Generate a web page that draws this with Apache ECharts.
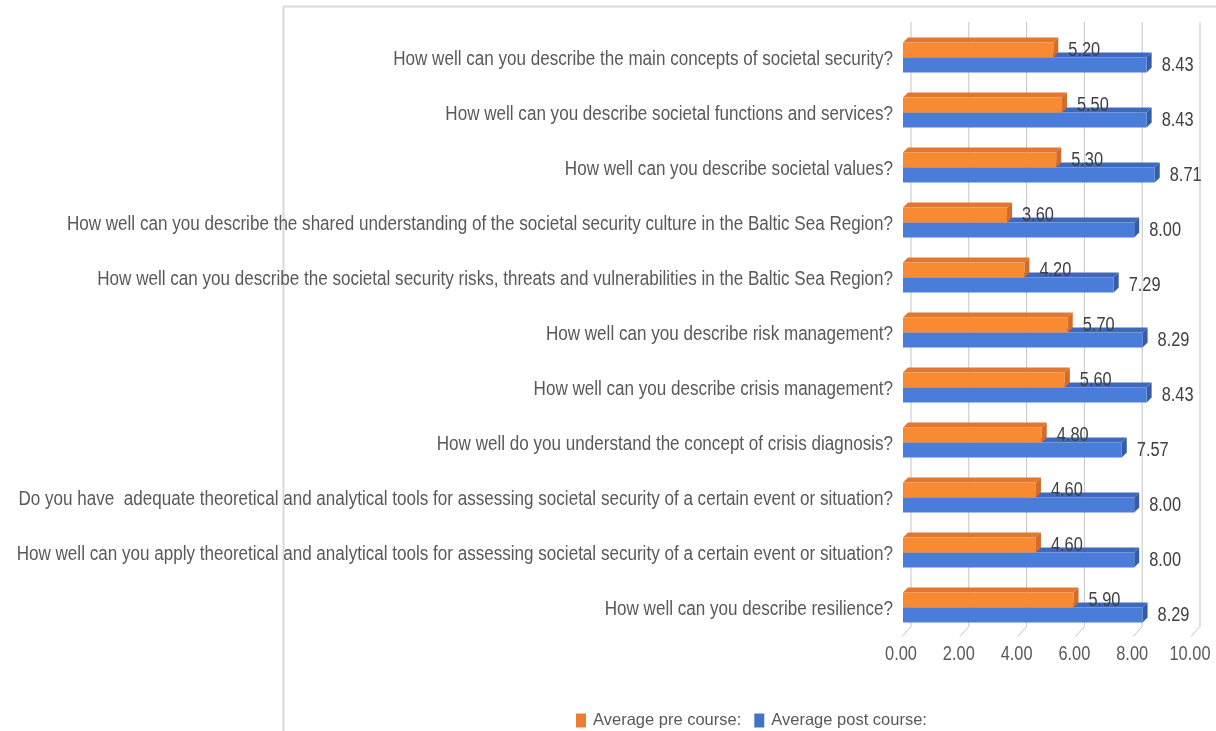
<!DOCTYPE html>
<html>
<head>
<meta charset="utf-8">
<script src="https://cdn.jsdelivr.net/npm/echarts@6/dist/echarts.min.js"></script>
<style>
html,body{margin:0;padding:0;background:#fff;}
#chart{width:1216px;height:731px;}
</style>
</head>
<body>
<div id="chart"></div>
<script>
const categories = [
  "How well can you describe the main concepts of societal security?",
  "How well can you describe societal functions and services?",
  "How well can you describe societal values?",
  "How well can you describe the shared understanding of the societal security culture in the Baltic Sea Region?",
  "How well can you describe the societal security risks, threats and vulnerabilities in the Baltic Sea Region?",
  "How well can you describe risk management?",
  "How well can you describe crisis management?",
  "How well do you understand the concept of crisis diagnosis?",
  "Do you have  adequate theoretical and analytical tools for assessing societal security of a certain event or situation?",
  "How well can you apply theoretical and analytical tools for assessing societal security of a certain event or situation?",
  "How well can you describe resilience?"
];
const preCourse  = [5.20, 5.50, 5.30, 3.60, 4.20, 5.70, 5.60, 4.80, 4.60, 4.60, 5.90];
const postCourse = [8.43, 8.43, 8.71, 8.00, 7.29, 8.29, 8.43, 7.57, 8.00, 8.00, 8.29];
const xTicks = [0, 2, 4, 6, 8, 10];
const xTickLabels = ["0.00", "2.00", "4.00", "6.00", "8.00", "10.00"];
const seriesNames = ["Average pre course:", "Average post course:"];

const FONT = "'Liberation Sans', Arial, sans-serif";
const FONT_SIZE = 19.5;
const SX_NUM = 0.84;
const SX_CAT = 0.875;
const BAR_H = 15, DX = 5, DY = 5;

const palettes = [
  {front: '#F88A31', top: '#E2772F', side: '#D36B2A', legend: '#ED7D31'},
  {front: '#4A7DDA', top: '#3E69BC', side: '#355CA8', legend: '#4472C4'}
];

function squeezedText(x, y, text, align, fill, sx) {
  return {
    type: 'text', x: x, y: y, scaleX: sx, scaleY: 1,
    style: {text: text, x: 0, y: 0, fill: fill, font: FONT_SIZE + 'px ' + FONT,
      verticalAlign: 'middle', align: align}
  };
}

function barRenderer(idx) {
  const pal = palettes[idx];
  return function (params, api) {
    const v = api.value(0), cat = api.value(1);
    const s = api.coord([0, cat]);
    const e = api.coord([v, cat]);
    const cy = s[1];
    const yTop = idx === 0 ? cy - BAR_H : cy;
    const yBot = yTop + BAR_H;
    const x0 = s[0], x1 = e[0];
    return {
      type: 'group',
      children: [
        {type: 'polygon', shape: {points: [[x0, yTop], [x0 + DX, yTop - DY], [x1 + DX, yTop - DY], [x1, yTop]]}, style: {fill: pal.top}},
        {type: 'polygon', shape: {points: [[x1, yTop], [x1 + DX, yTop - DY], [x1 + DX, yBot - DY], [x1, yBot]]}, style: {fill: pal.side}},
        {type: 'rect', shape: {x: x0, y: yTop, width: x1 - x0, height: BAR_H}, style: {fill: pal.front}},
        squeezedText(x1 + 15, (yTop + yBot) / 2 + 0.5, v.toFixed(2), 'left', '#404040', SX_NUM)
      ]
    };
  };
}

function categoryLabelRenderer(params, api) {
  const p = api.coord([0, api.value(0)]);
  return squeezedText(p[0] - 10, p[1] + 2.5, categories[params.dataIndex], 'right', '#595959', SX_CAT);
}

function gridRenderer(params, api) {
  const cs = params.coordSys;
  const x = api.coord([api.value(0), 0])[0];
  const bx = x + 8;
  const yTopLine = cs.y - 8;
  const yBack = cs.y + cs.height - 8.5;
  const yFront = cs.y + cs.height + 1.5;
  return {
    type: 'group',
    children: [
      {type: 'line', shape: {x1: bx, y1: yTopLine, x2: bx, y2: yBack}, style: {stroke: '#C4C4C4', lineWidth: 1}},
      {type: 'line', shape: {x1: bx, y1: yBack, x2: x - 1, y2: yFront}, style: {stroke: '#C4C4C4', lineWidth: 1}},
      squeezedText(x - 2, cs.y + cs.height + 20, xTickLabels[params.dataIndex], 'center', '#595959', SX_NUM)
    ]
  };
}

const chart = echarts.init(document.getElementById('chart'), null, {renderer: 'canvas'});
chart.setOption({
  backgroundColor: '#ffffff',
  animation: false,
  graphic: [{
    type: 'rect', z: -10, silent: true,
    shape: {x: 283.5, y: 6.5, width: 1000, height: 800},
    style: {fill: 'none', stroke: '#D9D9D9', lineWidth: 2}
  }],
  legend: {
    left: 571, top: 707,
    itemWidth: 10, itemHeight: 14, itemGap: 13,
    icon: 'rect',
    data: [
      {name: seriesNames[0], itemStyle: {color: palettes[0].legend}},
      {name: seriesNames[1], itemStyle: {color: palettes[1].legend}}
    ],
    textStyle: {fontFamily: FONT, fontSize: 16.5, color: '#595959', padding: [0, 0, 0, 2]}
  },
  grid: {left: 903, right: 24, top: 30, bottom: 96, containLabel: false, outerBoundsMode: 'none'},
  xAxis: {
    type: 'value', min: xTicks[0], max: xTicks[xTicks.length - 1], interval: 2,
    axisLine: {show: false}, axisTick: {show: false}, splitLine: {show: false},
    axisLabel: {show: false}
  },
  yAxis: {
    type: 'category', inverse: true, data: categories,
    axisLine: {show: false}, axisTick: {show: false}, splitLine: {show: false},
    axisLabel: {show: false}
  },
  series: [
    {name: 'grid', type: 'custom', z: 1, silent: true, renderItem: gridRenderer,
      data: xTicks.map(t => [t]), encode: {x: 0}},
    {name: 'labels', type: 'custom', z: 2, silent: true, renderItem: categoryLabelRenderer,
      data: categories.map((c, i) => [i]), encode: {y: 0}},
    {name: seriesNames[0], type: 'custom', z: 4, renderItem: barRenderer(0),
      itemStyle: {color: palettes[0].legend},
      data: preCourse.map((v, i) => [v, i]), encode: {x: 0, y: 1}},
    {name: seriesNames[1], type: 'custom', z: 3, renderItem: barRenderer(1),
      itemStyle: {color: palettes[1].legend},
      data: postCourse.map((v, i) => [v, i]), encode: {x: 0, y: 1}}
  ]
});
</script>
</body>
</html>
